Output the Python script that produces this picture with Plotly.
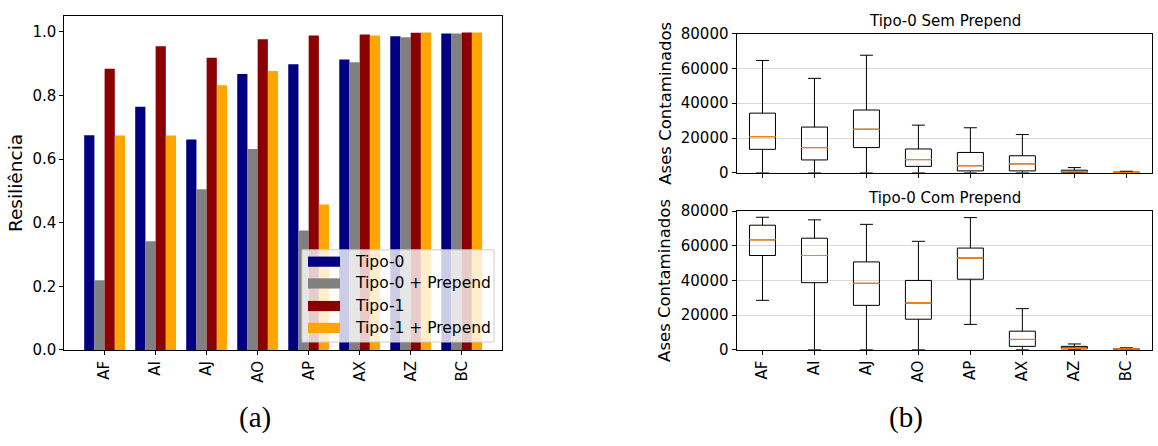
import plotly.graph_objects as go

# ---------------- data ----------------
categories = ["AF", "AI", "AJ", "AO", "AP", "AX", "AZ", "BC"]

# (a) Resiliência
tipo0 = [0.675, 0.765, 0.662, 0.868, 0.898, 0.913, 0.986, 0.995]
tipo0_prepend = [0.219, 0.342, 0.505, 0.632, 0.376, 0.905, 0.983, 0.995]
tipo1 = [0.884, 0.955, 0.919, 0.977, 0.989, 0.992, 0.997, 0.998]
tipo1_prepend = [0.674, 0.674, 0.832, 0.877, 0.457, 0.989, 0.998, 0.998]

# (b) Tipo-0 Sem Prepend (box statistics)
sem_upper = [64600, 54300, 67600, 27400, 25900, 22000, 3000, 900]
sem_q3 = [34300, 26300, 36100, 13700, 11700, 9800, 1500, 400]
sem_median = [20800, 14500, 25000, 7600, 4100, 5200, 600, 200]
sem_q1 = [13500, 7400, 14500, 3700, 1100, 1100, 200, 50]
sem_lower = [0, 0, 0, 0, 0, 0, 0, 0]

# (b) Tipo-0 Com Prepend (box statistics)
com_upper = [76500, 75000, 72400, 62600, 76300, 23700, 3300, 1100]
com_q3 = [71900, 64400, 50700, 40000, 58700, 10700, 1900, 600]
com_median = [63500, 54400, 38300, 26900, 53000, 5900, 700, 400]
com_q1 = [54400, 38700, 25600, 17600, 40700, 1900, 400, 200]
com_lower = [28500, 0, 0, 0, 14600, 0, 0, 0]

series_names = ["Tipo-0", "Tipo-0 + Prepend", "Tipo-1", "Tipo-1 + Prepend"]
series_values = [tipo0, tipo0_prepend, tipo1, tipo1_prepend]
series_colors = ["#000080", "#808080", "#8b0000", "#ffa500"]

W, H = 1158, 446
FONT = "DejaVu Sans"


def px_x(x0, x1):
    return [x0 / W, x1 / W]


def px_y(top, bottom):
    return [1 - bottom / H, 1 - top / H]


fig = go.Figure()

for name, vals, col in zip(series_names, series_values, series_colors):
    fig.add_trace(go.Bar(x=categories, y=vals, name=name, marker_color=col,
                         marker_line_width=0, xaxis="x", yaxis="y",
                         showlegend=False))


def add_boxes(xa, ya, lower, q1, med, q3, upper):
    fig.add_trace(go.Box(x=categories, q1=q1, median=med, q3=q3,
                         lowerfence=lower, upperfence=upper,
                         xaxis=xa, yaxis=ya, width=0.5, whiskerwidth=0.5,
                         line=dict(color="black", width=1),
                         fillcolor="rgba(0,0,0,0)", boxpoints=False,
                         showlegend=False, hoverinfo="skip"))
    # median overlay in orange
    fig.add_trace(go.Box(x=categories, q1=med, median=med, q3=med,
                         lowerfence=med, upperfence=med,
                         xaxis=xa, yaxis=ya, width=0.5, whiskerwidth=0,
                         line=dict(color="#ff7f0e", width=1),
                         fillcolor="rgba(0,0,0,0)", boxpoints=False,
                         showlegend=False, hoverinfo="skip"))


add_boxes("x2", "y2", sem_lower, sem_q1, sem_median, sem_q3, sem_upper)
add_boxes("x3", "y3", com_lower, com_q1, com_median, com_q3, com_upper)

axis_common = dict(showline=True, linecolor="black", linewidth=1, mirror=True,
                   ticks="outside", ticklen=4, tickcolor="black",
                   tickfont=dict(family=FONT, size=15, color="black"),
                   zeroline=False)

fig.update_layout(
    width=W, height=H,
    margin=dict(l=0, r=0, t=0, b=0),
    paper_bgcolor="white", plot_bgcolor="white",
    barmode="group", bargap=0.2, bargroupgap=0,
    boxmode="overlay",
    font=dict(family=FONT, color="black"),
    showlegend=False,
    xaxis=dict(domain=px_x(64.3, 502), range=[-0.79, 7.79], tickangle=-90,
               showgrid=False, anchor="y", **axis_common),
    yaxis=dict(domain=px_y(7.3, 355.3), range=[0, 1.05], dtick=0.2,
               tickformat=".1f", showgrid=False, anchor="x",
               title=dict(text="Resiliência", standoff=4,
                          font=dict(family=FONT, size=18.5, color="black")),
               **axis_common),
    xaxis2=dict(domain=px_x(736.5, 1152.3), range=[-0.5, 7.5], showticklabels=False,
                showgrid=False, anchor="y2", **axis_common),
    yaxis2=dict(domain=px_y(25.7, 170.7), range=[0, 80000], dtick=20000,
                tickformat="d", showgrid=True, gridcolor="#d9d9d9", gridwidth=1,
                anchor="x2",
                title=dict(text="Ases Contaminados", standoff=5,
                           font=dict(family=FONT, size=16.5, color="black")),
                **axis_common),
    xaxis3=dict(domain=px_x(736.5, 1152.3), range=[-0.5, 7.5], tickangle=-90,
                showgrid=False, anchor="y3", **axis_common),
    yaxis3=dict(domain=px_y(210.7, 355.0), range=[0, 80000], dtick=20000,
                tickformat="d", showgrid=True, gridcolor="#d9d9d9", gridwidth=1,
                anchor="x3",
                title=dict(text="Ases Contaminados", standoff=5,
                           font=dict(family=FONT, size=16.5, color="black")),
                **axis_common),
)

annotations = [
    dict(text="Tipo-0 Sem Prepend", x=944.5 / W, y=1 - 25.7 / H, xref="paper", yref="paper",
         xanchor="center", yanchor="bottom", yshift=2, showarrow=False,
         font=dict(family=FONT, size=15, color="black")),
    dict(text="Tipo-0 Com Prepend", x=944.5 / W, y=1 - 210.7 / H, xref="paper", yref="paper",
         xanchor="center", yanchor="bottom", yshift=2, showarrow=False,
         font=dict(family=FONT, size=15, color="black")),
    dict(text="(a)", x=255 / W, y=1 - 426 / H, xref="paper", yref="paper",
         xanchor="center", yanchor="middle", showarrow=False,
         font=dict(family="Liberation Serif", size=29, color="black")),
    dict(text="(b)", x=906 / W, y=1 - 426 / H, xref="paper", yref="paper",
         xanchor="center", yanchor="middle", showarrow=False,
         font=dict(family="Liberation Serif", size=29, color="black")),
]

# legend drawn in matplotlib style (wide patch handles, translucent frame)
shapes = [dict(type="rect", xref="paper", yref="paper",
               x0=302 / W, x1=494 / W, y0=1 - 347 / H, y1=1 - 251 / H,
               fillcolor="rgba(255,255,255,0.8)", line=dict(color="#cccccc", width=1),
               layer="above")]
row_y = [263.3, 286.0, 309.5, 332.3]
for name, col, ry in zip(series_names, series_colors, row_y):
    shapes.append(dict(type="rect", xref="paper", yref="paper",
                       x0=308 / W, x1=340 / W, y0=1 - (ry + 5.3) / H, y1=1 - (ry - 5.3) / H,
                       fillcolor=col, line=dict(width=0), layer="above"))
    annotations.append(dict(text=name, x=352.5 / W, y=1 - ry / H, xref="paper", yref="paper",
                            xanchor="left", yanchor="middle", showarrow=False,
                            font=dict(family=FONT, size=15.5, color="black")))

fig.update_layout(annotations=annotations, shapes=shapes)

fig.write_html("out.html")
